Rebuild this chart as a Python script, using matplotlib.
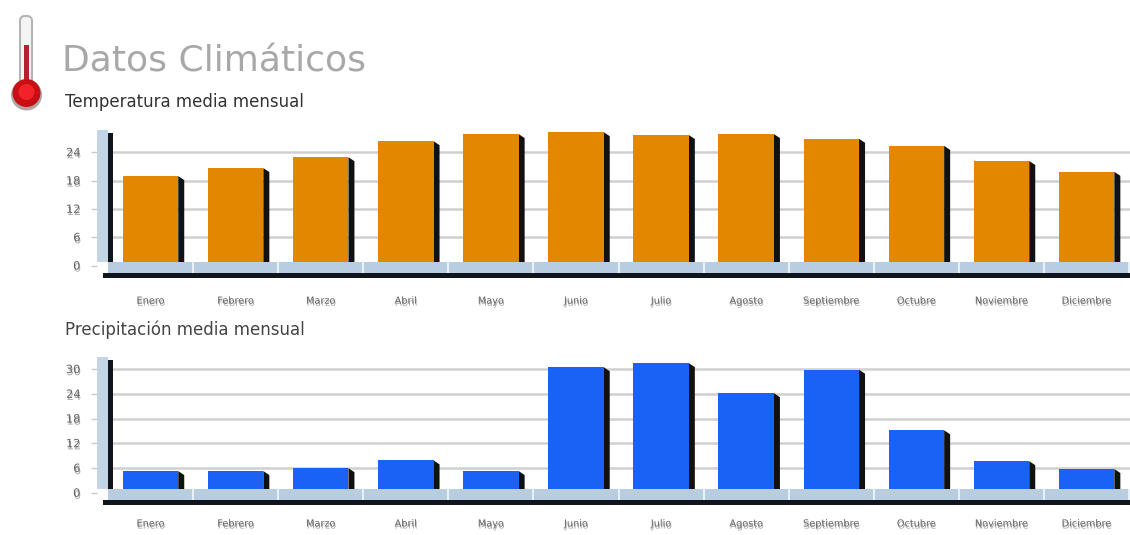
import numpy as np
import matplotlib
matplotlib.use('Agg')
import matplotlib.pyplot as plt
import matplotlib.patheffects as pe
from matplotlib.patches import Circle, FancyBboxPatch, Rectangle
from matplotlib.transforms import Affine2D

W, H = 1130, 535

meses = ['Enero', 'Febrero', 'Marzo', 'Abril', 'Mayo', 'Junio', 'Julio',
         'Agosto', 'Septiembre', 'Octubre', 'Noviembre', 'Diciembre']
temperatura = [18.2, 19.9, 22.2, 25.6, 27.1, 27.5, 26.9, 27.1, 26.1, 24.6, 21.4, 19.1]
precipitacion = [4.4, 4.4, 5.1, 7.0, 4.4, 29.6, 30.6, 23.3, 29.0, 14.3, 6.8, 4.9]
ticks_temp = [0, 6, 12, 18, 24]
ticks_prec = [0, 6, 12, 18, 24, 30]

shadow = [pe.withSimplePatchShadow(offset=(0.5, -1.5), shadow_rgbFace='#888888', alpha=0.7)]

fig = plt.figure(figsize=(W / 100, H / 100), dpi=100)


def panel(top, bottom, zero, px_unit, valores, ticks, color, lift, label_pad):
    # top/bottom/zero are pixel rows of the reference
    ax = fig.add_axes([97 / W, 1 - bottom / H, (W - 97) / W, (bottom - top) / H])
    x0 = (97 - 150.5) / 85.1
    x1 = (W - 150.5) / 85.1
    ax.set_xlim(x0, x1)
    ax.set_ylim((zero - bottom) / px_unit, (zero - top) / px_unit)
    for s in ax.spines.values():
        s.set_visible(False)
    ax.patch.set_alpha(0)

    ax.hlines(ticks[1:], x0, x1, color='#d0d0d0', lw=1.8, zorder=1)

    # planta delantera de las barras, un poco por encima de la rejilla
    front = ax.transData + Affine2D().translate(0, lift)
    x = np.arange(len(valores))
    dx = 6 / 85.1
    dy = 4 / px_unit
    bw = 0.652
    for xi, v in zip(x, valores):
        r = xi + bw / 2
        ax.fill([r, r + dx, r + dx, r], [0, 0, v - dy, v], color='#111111',
                lw=0, zorder=2, transform=front)
    ax.bar(x, valores, width=bw, color=color, zorder=3, transform=front)

    # pared y suelo
    wall_x = (108 - 150.5) / 85.1
    black_x = (113 - 150.5) / 85.1
    wall_top = (zero - top) / px_unit
    ax.add_patch(Rectangle((x0, lift / px_unit), wall_x - x0, wall_top, color='#c3d4e6', lw=0, zorder=4))
    ax.add_patch(Rectangle((wall_x, lift / px_unit), black_x - wall_x, wall_top - 3 / px_unit - lift / px_unit,
                           color='#10151c', lw=0, zorder=5))
    floor_top = lift / px_unit
    floor_bot = (lift - 11) / px_unit
    ax.add_patch(Rectangle((wall_x, floor_bot), x1 - wall_x, floor_top - floor_bot,
                           color='#b9cde0', lw=0, zorder=4))
    ax.vlines(x + 0.5, floor_bot, floor_top, color='#e6f1f8', lw=1.5, zorder=5)
    line_x = (103 - 150.5) / 85.1
    ax.add_patch(Rectangle((line_x, floor_bot - 4.5 / px_unit), x1 - line_x, 4.5 / px_unit,
                           color='#10151c', lw=0, zorder=5))

    ax.set_yticks(ticks)
    ax.set_yticklabels([str(t) for t in ticks], fontsize=8.2, color='#666666', path_effects=shadow)
    ax.tick_params(axis='y', length=4, width=1, color='#c9c9c9', pad=8)
    ax.set_xticks(x)
    ax.set_xticklabels(meses, fontsize=7, color='#666666', path_effects=shadow)
    ax.tick_params(axis='x', length=0, pad=label_pad)
    return ax


panel(130, 279, 265.5, 4.72, temperatura, ticks_temp, '#e38600', 3.5, 12)
panel(357, 506, 492.7, 4.12, precipitacion, ticks_prec, '#1a62f5', 3.5, 9)

# titulos
fig.text(62 / W, 1 - 61 / H, 'Datos Climáticos', fontsize=26, color='#a8a8a8', va='center', ha='left')
fig.text(65 / W, 1 - 102 / H, 'Temperatura media mensual', fontsize=12, color='#333333', va='center', ha='left')
fig.text(65 / W, 1 - 330 / H, 'Precipitación media mensual', fontsize=12, color='#444444', va='center', ha='left')

# termometro
deco = fig.add_axes([0, 0, 1, 1], zorder=10)
deco.set_xlim(0, W)
deco.set_ylim(H, 0)
deco.axis('off')
deco.add_patch(FancyBboxPatch((20, 16), 12, 72, boxstyle='round,pad=0,rounding_size=5',
                              fc='#f4f4f4', ec='#b5b5b5', lw=1.5))
deco.add_patch(Rectangle((24, 45), 5, 40, color='#b5222f', lw=0))
deco.add_patch(Circle((26.5, 95), 15.5, color='#b0a8a8', lw=0))
deco.add_patch(Circle((26.5, 93), 14, color='#c80f14', lw=0))
deco.add_patch(Circle((26.5, 92), 8, color='#f2222a', lw=0))

plt.savefig('out.png', dpi=100)
